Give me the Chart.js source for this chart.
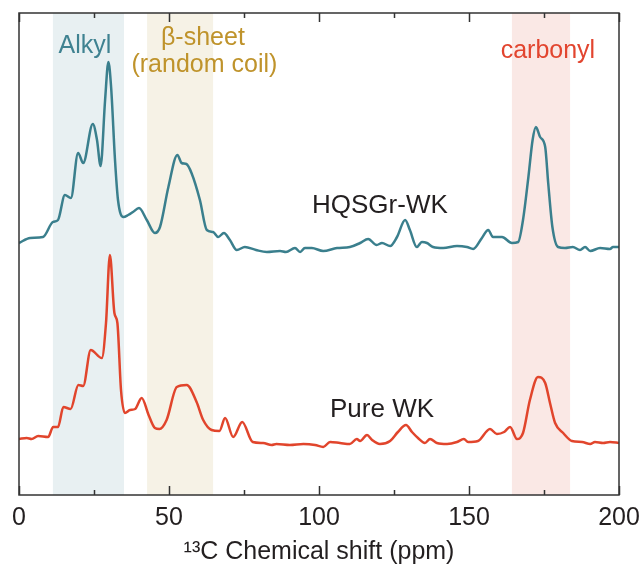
<!DOCTYPE html>
<html>
<head>
<meta charset="utf-8">
<script src="https://cdn.jsdelivr.net/npm/chart.js@4"></script>
<style>
  html, body { margin: 0; padding: 0; background: #fff; overflow: hidden; }
  canvas { display: block; }
</style>
</head>
<body>
<canvas id="nmr" width="644" height="572"></canvas>
<script>
"use strict";

// 13C CP-MAS spectra, intensity in arbitrary units (offset stacked)
const hqPpm = [0, 3.7, 8, 11.3, 13, 15.3, 17.3, 19.7, 21.4, 24.6, 26, 27.2, 28.7, 29.8, 30.7, 32, 33, 34.8, 36.4, 38, 40,
  42.6, 45.3, 47, 49.8, 52.8, 54.2, 55.8, 57.5, 60.3, 62.6, 64.7, 66.4, 68.3, 70.3, 72.6, 75.3, 79, 82.6, 87, 89, 92,
  93.7, 95.3, 97.6, 101.4, 106, 110.3, 113.7, 116.4, 119.2, 121, 123.7, 126, 128.7, 130.3, 132.6, 134.3, 136, 138,
  141.4, 146, 149.3, 151.4, 154.3, 156.4, 158, 161, 164.3, 166.4, 168, 169.8, 171.2, 172.3, 173.7, 175.4, 176.4,
  177.8, 179.7, 182, 184.6, 187, 188.7, 190.4, 193.7, 197, 198, 200];
const hqInt = [252, 257, 258, 273, 275, 300, 297, 342, 332, 371, 355, 329, 395, 433, 408, 335, 295, 278, 280, 283, 287,
  275, 262, 268, 308, 340, 332, 331, 322, 295, 265, 263, 258, 262, 255, 245, 248, 245, 243, 244, 243, 247,
  243, 247, 247, 244, 247, 248, 252, 256, 250, 252, 249, 258, 275, 265, 248, 253, 252, 248,
  247, 249, 248, 246, 257, 265, 258, 258, 252, 253, 275, 318, 355, 368, 358, 348, 312,
  268, 248, 247, 248, 245, 248, 244, 247, 246, 248, 248];

const pwPpm = [0, 2.6, 4.2, 6.4, 9.7, 11.4, 13, 14.8, 17.2, 19.8, 21.4, 23.9, 27.6, 29, 30.3, 31.8, 32.8, 34, 35.3, 37,
  38.7, 40.9, 43.2, 45.3, 46.8, 49.2, 52.6, 55.9, 59.2, 61.4, 64.2, 66.8, 68.7, 71.4, 74.4, 77.9, 81.4, 84.2, 85.8,
  90.3, 94.8, 98.7, 101.4, 103.7, 107, 110.3, 112.6, 113.7, 116, 117.7, 120.3, 123.7, 126.3, 129, 131, 133, 135.3,
  137, 139.3, 142.7, 146, 148.3, 149.7, 153, 157, 159.3, 161.7, 163.7, 166, 168, 170.3, 173, 175.4, 177, 178.7,
  181.4, 184.3, 187.7, 190.4, 192, 194.7, 197, 200];
const pwInt = [56, 57, 56, 59, 58, 68, 68, 88, 86, 110, 109, 145, 137, 172, 240, 182, 172, 105, 82, 85,
  86, 97, 80, 67, 66, 75, 108, 110, 93, 75, 65, 64, 77, 58, 73, 53, 52, 50, 51,
  50, 51, 50, 48, 53, 52, 51, 56, 54, 60, 55, 51, 54, 63, 70, 63, 57, 52,
  56, 52, 51, 53, 56, 53, 54, 66, 61, 63, 68, 56, 62, 95, 118, 112, 92, 72,
  62, 54, 53, 51, 53, 52, 53, 52];

const majorTicks = [0, 50, 100, 150, 200];
const minorTicks = [25, 75, 125, 175];

// shaded assignment regions [from, to] in ppm
const regionNames = ["Alkyl", "β-sheet", "carbonyl"];
const regionRanges = [[11.3, 35], [42.7, 64.7], [164.3, 183.7]];
const regionFills = ["#e8f0f2", "#f6f2e6", "#fae8e5"];

const FONT = "'Liberation Sans', Arial, sans-serif";
const TEAL = "#3a7f8d";
const RED = "#e1452c";

function toPoints(xs, ys) {
  return xs.map((x, i) => ({ x, y: ys[i] }));
}

const regionPlugin = {
  id: "regions",
  beforeDatasetsDraw(chart) {
    const { ctx, chartArea, scales } = chart;
    ctx.save();
    regionRanges.forEach(([a, b], i) => {
      const x0 = scales.x.getPixelForValue(a);
      const x1 = scales.x.getPixelForValue(b);
      ctx.fillStyle = regionFills[i];
      ctx.fillRect(x0, chartArea.top, x1 - x0, chartArea.bottom - chartArea.top);
    });
    ctx.restore();
  },
};

// frame with inward ticks on top and bottom, plus text labels
const framePlugin = {
  id: "frame",
  afterDraw(chart) {
    const { ctx, chartArea, scales } = chart;
    const { left, right, top, bottom } = chartArea;
    ctx.save();
    ctx.strokeStyle = "#333";
    ctx.lineWidth = 1.5;
    ctx.strokeRect(left, top, right - left, bottom - top);
    const tick = (v, len) => {
      const px = Math.round(scales.x.getPixelForValue(v)) + 0.5;
      ctx.beginPath();
      ctx.moveTo(px, bottom); ctx.lineTo(px, bottom - len);
      ctx.moveTo(px, top); ctx.lineTo(px, top + len);
      ctx.stroke();
    };
    majorTicks.forEach(v => tick(v, 9));
    minorTicks.forEach(v => tick(v, 5));

    const label = (text, ppm, inten, color) => {
      ctx.fillStyle = color;
      ctx.fillText(text, scales.x.getPixelForValue(ppm), scales.y.getPixelForValue(inten));
    };
    ctx.font = "25px " + FONT;
    ctx.textAlign = "center";
    ctx.textBaseline = "alphabetic";
    label(regionNames[0], 22, 442, "#3f8291");
    label(regionNames[1], 61.3, 450, "#bf932b");
    label("(random coil)", 61.8, 423, "#bf932b");
    label(regionNames[2], 176.3, 437, "#e2452f");
    ctx.font = "26px " + FONT;
    label("HQSGr-WK", 120.3, 282, "#231f20");
    label("Pure WK", 121, 78, "#231f20");
    ctx.restore();
  },
};

new Chart(document.getElementById("nmr"), {
  type: "scatter",
  data: {
    datasets: [
      {
        label: "HQSGr-WK",
        data: toPoints(hqPpm, hqInt),
        borderColor: TEAL,
        borderWidth: 2.5,
        showLine: true,
        pointRadius: 0,
        cubicInterpolationMode: "monotone",
      },
      {
        label: "Pure WK",
        data: toPoints(pwPpm, pwInt),
        borderColor: RED,
        borderWidth: 2.5,
        showLine: true,
        pointRadius: 0,
        cubicInterpolationMode: "monotone",
      },
    ],
  },
  options: {
    responsive: false,
    animation: false,
    layout: { autoPadding: false, padding: { left: 19, right: 25, top: 13, bottom: 0 } },
    plugins: { legend: { display: false }, tooltip: { enabled: false } },
    scales: {
      x: {
        type: "linear",
        min: 0,
        max: 200,
        afterFit(scale) {
          scale.height = 77;
          scale.paddingLeft = 0;
          scale.paddingRight = 0;
        },
        afterBuildTicks(scale) { scale.ticks = majorTicks.map(v => ({ value: v })); },
        grid: { display: false, drawTicks: false },
        border: { display: false },
        ticks: {
          padding: 8,
          maxRotation: 0,
          color: "#231f20",
          font: { family: FONT, size: 25 },
        },
        title: {
          display: true,
          text: "¹³C Chemical shift (ppm)",
          color: "#231f20",
          font: { family: FONT, size: 25 },
          padding: { top: 0, bottom: 5 },
        },
      },
      y: { display: false, min: 0, max: 482 },
    },
  },
  plugins: [regionPlugin, framePlugin],
});
</script>
</body>
</html>
